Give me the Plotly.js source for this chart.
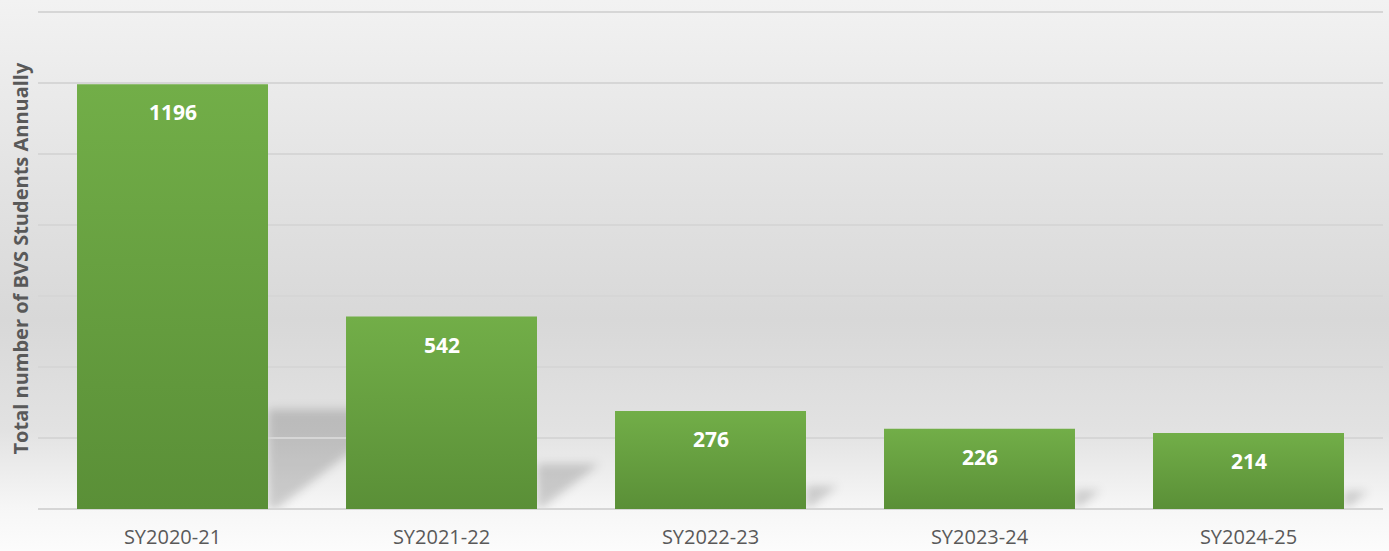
<!DOCTYPE html>
<html>
<head>
<meta charset="utf-8">
<script src="https://cdn.plot.ly/plotly-3.0.1.min.js"></script>
<style>
  html, body { margin: 0; padding: 0; }
  body {
    width: 1389px; height: 551px; overflow: hidden;
    background: linear-gradient(to bottom, #f2f2f2 0%, #e4e4e4 30%, #d8d8d8 58%, #e2e2e2 78%, #f6f6f6 92%, #fcfcfc 100%);
  }
  #chart { width: 1389px; height: 551px; }
</style>
</head>
<body>
<svg width="0" height="0" style="position:absolute">
  <defs>
    <linearGradient id="barGrad" x1="0" y1="0" x2="0" y2="1">
      <stop offset="0%" stop-color="#72ae48"/>
      <stop offset="100%" stop-color="#5a8f37"/>
    </linearGradient>
    <filter id="softShadow" x="-50%" y="-50%" width="200%" height="200%">
      <feGaussianBlur stdDeviation="5"/>
    </filter>
  </defs>
</svg>
<div id="chart"></div>
<script>
// ---- data ----
const categories = ["SY2020-21", "SY2021-22", "SY2022-23", "SY2023-24", "SY2024-25"];
const students = [1196, 542, 276, 226, 214];
const yTitle = "Total number of BVS Students Annually";

// ---- derived ----
const xIdx = categories.map((c, i) => i);
const barWidth = 0.71;

// soft perspective shadows cast to the right of each bar (decorative)
const shadowShapes = students.map((v, i) => {
  const xr = i + barWidth / 2;
  const h = v * 0.235;
  const dx = v * 0.00043;
  const path = `M ${xr},0 L ${xr},${h} L ${xr + dx},${h} L ${xr + dx * 0.06},0 Z`;
  return {
    type: 'path', xref: 'x', yref: 'y', path: path,
    fillcolor: 'rgba(0,0,0,0.17)', line: { width: 0 }, layer: 'below'
  };
});

const trace = {
  type: 'bar',
  x: xIdx,
  y: students,
  width: barWidth,
  marker: { color: '#66a03f', line: { width: 0 } },
  hoverinfo: 'skip'
};

const labels = students.map((v, i) => ({
  x: i, y: v, xref: 'x', yref: 'y',
  text: String(v), showarrow: false,
  yshift: -28,
  font: { family: 'Open Sans, sans-serif', size: 21, color: '#ffffff', weight: 'bold' }
}));

// y-axis title as a rotated annotation for exact placement
labels.push({
  xref: 'paper', yref: 'paper', x: -18 / 1345, y: 0.5,
  xanchor: 'center', yanchor: 'middle', textangle: -90,
  text: yTitle, showarrow: false,
  font: { family: 'Open Sans, sans-serif', size: 20, color: '#595959', weight: 'bold' }
});

const layout = {
  width: 1389, height: 551,
  margin: { l: 38, r: 6, t: 8, b: 42 },
  paper_bgcolor: 'rgba(0,0,0,0)',
  plot_bgcolor: 'rgba(0,0,0,0)',
  showlegend: false,
  font: { family: 'Open Sans, sans-serif' },
  xaxis: {
    range: [-0.5, categories.length - 0.5],
    tickvals: xIdx, ticktext: categories,
    showgrid: false, zeroline: false, showline: false,
    ticks: '', ticklabelstandoff: 14,
    tickfont: { family: 'Open Sans, sans-serif', size: 20, color: '#595959' }
  },
  yaxis: {
    range: [0, 1411], dtick: 200,
    showticklabels: false, ticks: '',
    showgrid: true, gridcolor: '#d6d6d6', gridwidth: 2,
    zeroline: true, zerolinecolor: '#d6d6d6', zerolinewidth: 2
  },
  shapes: shadowShapes,
  annotations: labels
};

Plotly.newPlot('chart', [trace], layout, { staticPlot: true, displayModeBar: false }).then(gd => {
  gd.querySelectorAll('.bars .point path').forEach(p => { p.style.fill = 'url(#barGrad)'; });
  gd.querySelectorAll('.shapelayer path').forEach(p => { p.setAttribute('filter', 'url(#softShadow)'); });
});
</script>
</body>
</html>
